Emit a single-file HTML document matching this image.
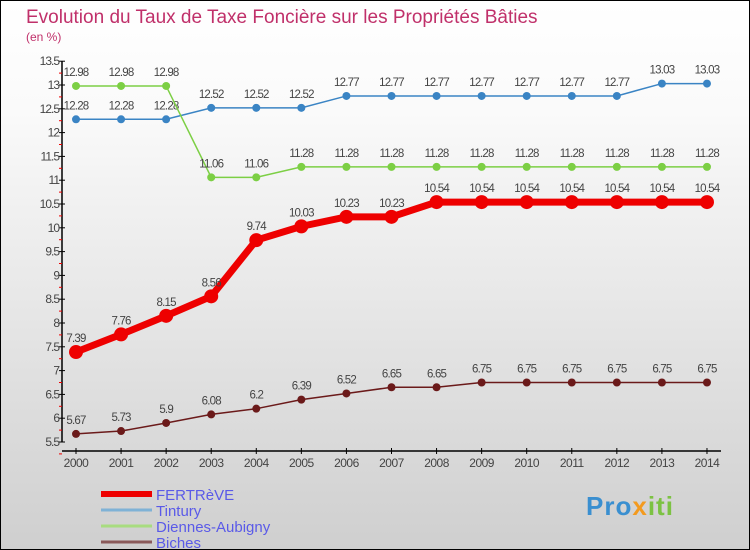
<!DOCTYPE html>
<html><head><meta charset="utf-8"><style>
body{margin:0}
#c{width:750px;height:550px;position:relative;box-sizing:border-box;border:1px solid #000;background:linear-gradient(#fff,#fafafa 20%,#cfcfcf);font-family:"Liberation Sans",sans-serif;overflow:hidden}
svg{position:absolute;left:0;top:0}
</style></head><body>
<div id="c">
<svg id="s" width="750" height="550">
<text x="25" y="22" font-size="19" fill="#c0306a">Evolution du Taux de Taxe Foncière sur les Propriétés Bâties</text>
<text x="25" y="40" font-size="12" fill="#c0306a">(en %)</text>
</svg>
<div style="position:absolute;left:585px;top:490px;font-size:26px;font-weight:bold;color:#3a8fd0;letter-spacing:1px">Pro<span style="color:#f39a1e">x</span><span style="color:#7cc243">iti</span></div>
</div>
<script>
const years=["2000","2001","2002","2003","2004","2005","2006","2007","2008","2009","2010","2011","2012","2013","2014"];
const yTicks=[5.5,6,6.5,7,7.5,8,8.5,9,9.5,10,10.5,11,11.5,12,12.5,13,13.5];
const tintury=[12.28,12.28,12.28,12.52,12.52,12.52,12.77,12.77,12.77,12.77,12.77,12.77,12.77,13.03,13.03];
const diennes=[12.98,12.98,12.98,11.06,11.06,11.28,11.28,11.28,11.28,11.28,11.28,11.28,11.28,11.28,11.28];
const fertreve=[7.39,7.76,8.15,8.56,9.74,10.03,10.23,10.23,10.54,10.54,10.54,10.54,10.54,10.54,10.54];
const biches=[5.67,5.73,5.9,6.08,6.2,6.39,6.52,6.65,6.65,6.75,6.75,6.75,6.75,6.75,6.75];
const s=document.getElementById('s');const NS='http://www.w3.org/2000/svg';
const X=i=>75+i*45.07;const Y=v=>441-(v-5.5)*47.6;
function el(t,a,txt){const e=document.createElementNS(NS,t);for(const k in a)e.setAttribute(k,a[k]);if(txt!==undefined)e.textContent=txt;s.appendChild(e);return e;}
let e=el('line',{x1:61,y1:60,x2:61,y2:441,stroke:'#000','stroke-width':1.5});


e=el('line',{x1:61,y1:450,x2:720,y2:450,stroke:'#000','stroke-width':1.5});


yTicks.forEach(v=>{
 const y=Y(v);
 el('line',{x1:58,y1:y,x2:64,y2:y,stroke:'#000'});
 el('line',{x1:58,y1:y+11.9,x2:61,y2:y+11.9,stroke:'#e00'});
 const t=el('text',{x:58,y:y+4,'font-size':12,fill:'#444','text-anchor':'end','letter-spacing':'-1'},String(v));
 
 
});
years.forEach((yr,i)=>{
 el('line',{x1:X(i),y1:447,x2:X(i),y2:453,stroke:'#000'});
 const t=el('text',{x:X(i),y:466,'font-size':12,fill:'#444','text-anchor':'middle','letter-spacing':'-0.5'},yr);
 
 
});
function series(vals,color,w,r,name){
 const p=el('polyline',{points:vals.map((v,i)=>X(i)+','+Y(v)).join(' '),fill:'none',stroke:color,'stroke-width':w});
 
 
 vals.forEach((v,i)=>{
  const c=el('circle',{cx:X(i),cy:Y(v),r:r,fill:color});
  
  
  const t=el('text',{x:X(i),y:Y(v)-10,'font-size':11.5,fill:'#444','text-anchor':'middle','letter-spacing':'-0.8'},String(v));
  
  
 });
}
series(tintury,'#3a84c4',1.5,4,'tintury');
series(diennes,'#7ccf44',1.5,4,'diennes-aubigny');
series(biches,'#6b1a1a',1.5,4,'biches');
series(fertreve,'#ee0000',7,7,'fertreve');
const leg=[['FERTRèVE','#ee0000',6],['Tintury','#7fb2d6',3],['Diennes-Aubigny','#a8dc80',3],['Biches','#8a5a5a',3]];
leg.forEach((l,i)=>{
 const y=493+i*16;
 el('line',{x1:100,y1:y,x2:151,y2:y,stroke:l[1],'stroke-width':l[2]});
 const t=el('text',{x:155,y:y+6,'font-size':15,fill:'#5a5ae8'},l[0]);
 
 
});
</script>
</body></html>
